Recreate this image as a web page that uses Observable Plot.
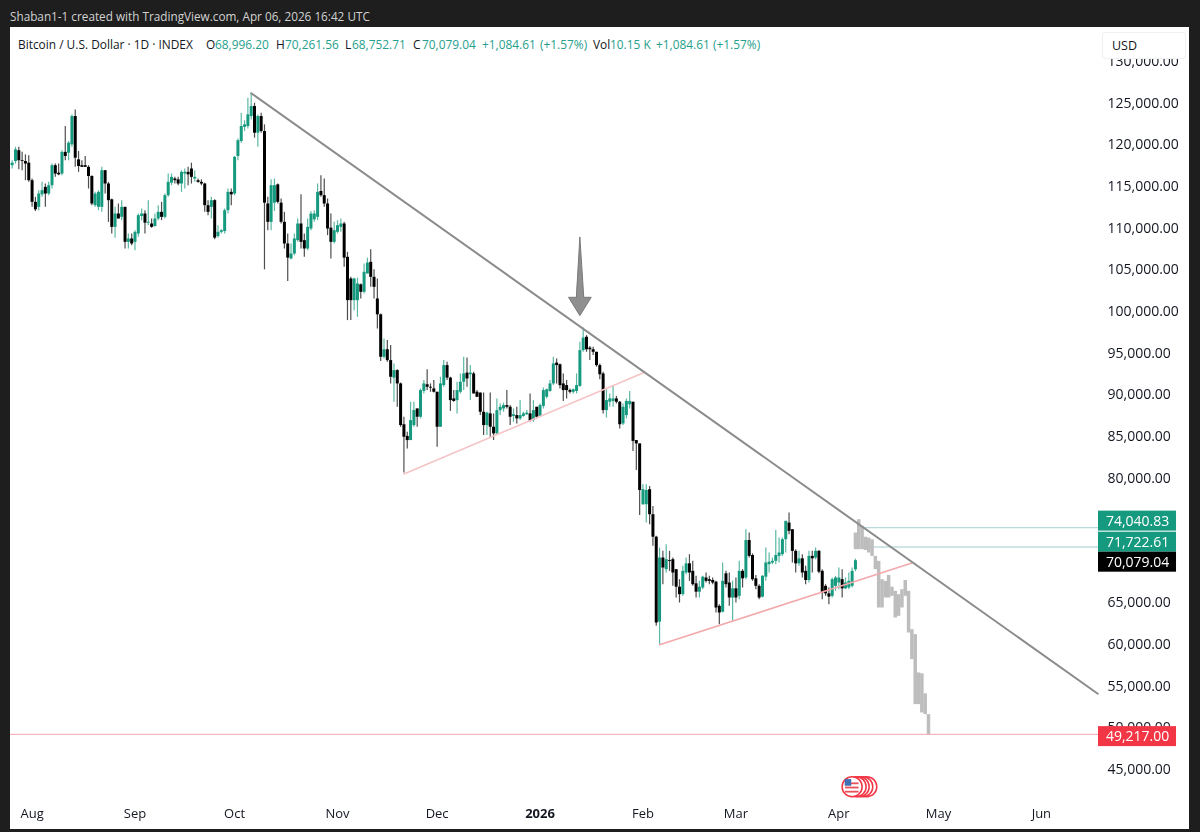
<!DOCTYPE html>
<html>
<head>
<meta charset="utf-8">
<script src="https://cdn.jsdelivr.net/npm/d3@7"></script>
<script src="https://cdn.jsdelivr.net/npm/@observablehq/plot@0.6"></script>
<style>
html,body{margin:0;padding:0;background:#1e1e1e;}
#page{position:relative;width:1200px;height:832px;overflow:hidden;background:#1e1e1e;font-family:"Open Sans",sans-serif;}
#byline{position:absolute;left:10px;top:7px;font-size:11.75px;line-height:18px;color:#d2d2d2;white-space:nowrap;}
#chart{position:absolute;left:10px;top:27px;filter:blur(.3px);}
#legend{position:absolute;left:18px;top:35px;font-size:11.9px;line-height:18px;color:#131722;white-space:nowrap;z-index:2;}
#legend .v{color:#26a08c;}
#legend span{position:absolute;top:0;}
#usd{position:absolute;left:1102px;top:32px;width:73px;height:25px;padding-left:9px;background:#fff;border:1px solid #f0f0f0;border-radius:3px;font-size:12.5px;line-height:25px;color:#131722;z-index:2;}
</style>
</head>
<body>
<div id="page">
  <div id="byline">Shaban1-1 created with TradingView.com, Apr 06, 2026 16:42 UTC</div>
  <div id="chart"></div>
  <div id="legend"></div>
  <div id="usd">USD</div>
</div>
<script>
// Daily candles from 2025-07-26, prices in thousands of USD
const firstDay = "2025-07-26";
const opens = [
117.5,118.0,119.3,118.1,118.0,117.8,115.7,113.1,112.5,114.0,
114.9,114.1,115.1,117.5,116.6,116.5,119.1,119.0,120.0,123.4,
118.2,117.5,117.5,117.3,116.2,112.7,112.5,112.5,116.9,115.3,
113.4,110.1,111.7,111.3,112.5,108.3,108.7,108.3,109.3,111.4,
111.7,110.6,110.5,110.2,111.1,111.9,111.3,113.9,115.4,115.9,
115.8,115.3,116.5,116.7,117.1,115.9,115.7,115.5,115.3,112.7,
112.5,113.3,109.0,109.5,109.6,112.1,114.3,114.1,118.6,120.4,
122.1,122.2,123.4,124.6,121.4,123.4,121.6,112.9,110.7,113.0,
115.2,113.0,110.7,108.1,106.3,106.9,108.5,110.5,108.5,107.5,
109.9,111.0,111.3,114.4,113.9,112.9,110.0,108.3,109.5,110.1,
110.5,106.5,103.9,101.3,101.3,103.2,102.3,104.5,105.9,104.1,
101.5,99.6,94.5,95.4,94.1,92.0,92.9,91.3,86.4,85.0,
84.5,86.3,88.3,87.3,90.4,91.2,90.9,90.7,90.3,86.1,
91.1,93.5,92.0,89.5,89.3,90.3,91.5,92.6,92.4,92.5,
90.3,90.2,87.9,86.3,87.7,86.1,85.3,88.1,88.3,88.7,
88.5,87.4,87.5,87.1,87.4,87.6,87.7,86.9,88.5,87.4,
88.6,89.7,90.4,91.3,93.8,93.6,91.3,91.1,90.5,90.3,
90.4,91.0,95.3,96.9,95.6,95.4,95.1,93.5,92.5,88.1,
89.1,89.2,89.5,89.1,86.5,87.5,88.8,89.1,84.5,84.1,
76.8,76.8,78.6,75.6,72.9,62.7,70.4,69.0,70.1,70.2,
69.0,66.9,66.0,68.6,69.7,68.8,67.3,66.3,66.8,68.0,
67.8,67.7,67.5,64.6,63.9,68.5,67.4,65.6,66.7,65.8,
68.8,68.0,72.5,70.7,67.9,67.0,65.7,68.1,69.6,69.8,
70.0,70.6,70.8,72.6,74.6,73.8,71.2,69.7,70.3,68.8,
67.7,70.6,70.4,71.2,68.8,67.0,66.1,65.8,67.0,67.4,
67.8,66.7,66.8,67.0,68.996];
const closes = [
117.8,119.4,118.1,118.0,117.7,115.7,113.1,112.2,114.1,114.5,
114.1,115.1,117.5,116.5,116.4,119.1,118.6,120.2,123.4,118.4,
117.4,117.3,117.3,116.2,112.9,114.1,114.3,116.9,115.3,113.3,
110.1,111.7,111.1,112.5,108.3,108.7,108.1,109.5,111.5,111.7,
110.6,110.7,110.1,111.1,111.9,111.3,113.9,115.5,116.1,115.7,
115.3,116.7,116.7,116.4,116.1,116.1,115.5,115.3,112.7,111.9,
113.3,108.8,109.5,109.7,112.1,114.3,114.0,118.5,120.5,122.2,
122.4,123.6,124.6,121.4,123.4,121.6,113.0,110.7,115.1,115.1,
113.1,110.7,108.1,106.4,106.9,108.7,110.5,108.3,107.5,110.1,
111.7,111.7,114.3,113.9,112.9,109.9,108.3,109.7,110.3,110.5,
106.4,101.3,101.3,103.9,103.3,102.3,104.7,105.8,104.1,102.9,
99.6,94.5,95.4,94.1,92.1,92.9,91.3,86.3,84.9,84.5,
86.9,88.1,87.3,90.5,91.3,90.9,90.8,90.3,86.1,91.3,
93.5,92.0,89.3,89.2,90.5,91.5,92.5,91.9,92.6,90.1,
89.7,87.9,86.3,87.8,86.1,85.3,88.1,88.5,88.7,88.5,
87.3,87.6,87.1,87.5,87.7,87.8,86.8,88.1,87.3,88.7,
90.5,90.6,91.3,93.7,93.5,91.1,90.5,90.5,90.3,90.6,
91.1,95.3,96.8,95.4,95.4,95.1,93.5,92.4,88.1,89.3,
89.5,89.5,89.1,86.4,88.5,89.2,89.2,84.4,84.1,78.5,
78.6,78.5,75.6,72.9,62.6,70.4,69.2,70.2,70.0,68.6,
66.9,66.0,68.8,69.7,68.6,67.2,66.3,66.9,68.1,67.6,
67.6,67.4,64.4,63.8,67.6,67.2,65.6,66.7,65.6,68.8,
67.9,72.5,70.6,67.8,67.0,65.6,68.2,69.8,69.9,70.0,
70.7,71.0,72.6,74.8,73.6,71.2,69.7,70.3,68.6,67.7,
70.6,70.3,71.2,68.7,66.2,66.1,65.7,67.8,68.0,68.0,
66.7,67.4,67.6,68.8,70.079];
const highs = [
118.1,119.7,119.7,119.1,118.8,118.7,115.9,113.7,114.5,115.5,
115.3,115.5,117.7,117.7,117.7,119.3,122.2,120.4,123.6,124.2,
119.2,118.1,118.6,117.5,116.3,114.3,114.5,117.3,116.9,115.5,
113.5,112.5,112.9,113.3,112.5,109.3,109.3,109.7,111.7,112.3,
112.1,113.3,111.1,111.7,112.7,113.1,114.1,116.5,116.5,116.1,
116.1,116.9,117.1,117.3,117.8,116.9,115.9,115.8,115.4,113.3,
113.7,113.4,110.3,109.8,112.3,114.7,114.7,118.6,120.7,123.8,
122.9,125.6,126.2,125.0,123.6,123.8,122.4,113.7,115.8,115.9,
115.3,113.5,111.9,109.3,108.1,109.3,111.1,114.0,109.3,111.1,
112.0,112.1,115.3,116.3,115.9,113.5,111.7,110.7,110.9,111.1,
110.7,107.1,104.1,104.0,104.0,103.3,105.7,106.4,107.4,105.0,
103.9,99.7,96.7,96.5,95.9,93.7,93.0,91.4,87.3,85.5,
89.1,89.1,88.3,90.7,91.7,93.0,91.3,91.7,90.3,92.1,
94.1,93.9,92.1,90.5,91.5,92.5,94.5,94.4,93.5,92.7,
90.5,90.2,90.2,87.9,90.2,87.7,89.5,88.9,89.0,90.5,
88.7,88.3,88.5,89.3,87.9,88.1,90.1,89.3,88.5,88.9,
90.8,90.7,91.7,94.5,94.3,93.7,92.5,91.7,90.7,90.7,
92.5,96.3,98.0,97.1,95.8,95.7,95.1,93.7,92.7,90.6,
90.1,91.0,89.8,89.2,88.9,89.5,90.4,89.1,84.5,84.1,
79.2,79.2,79.0,76.6,73.0,71.6,71.2,72.0,71.2,70.4,
69.0,67.8,69.4,70.4,70.8,70.0,68.2,67.6,68.2,68.6,
68.2,68.0,67.6,64.8,69.8,68.8,68.6,67.6,68.0,70.0,
69.0,73.8,73.4,70.9,68.3,67.2,68.3,71.6,71.0,70.4,
73.7,72.8,72.8,74.8,75.8,73.8,71.4,71.2,70.8,69.4,
71.2,71.2,71.6,71.3,69.0,67.2,66.8,68.0,68.2,69.2,
69.0,68.0,68.6,69.2,70.262];
const lows = [
117.1,117.7,117.0,116.9,115.7,115.5,112.5,112.0,112.1,113.7,
112.5,113.9,114.7,116.1,116.3,116.3,118.1,118.1,119.7,117.3,
116.7,117.3,117.3,114.7,112.7,112.5,112.1,111.9,114.1,110.7,
109.3,108.8,111.1,110.9,107.5,107.5,107.9,107.3,108.9,110.9,
109.3,110.3,110.0,110.1,110.9,110.9,111.1,113.7,115.1,115.3,
115.1,114.3,114.7,115.1,115.3,115.5,115.4,115.1,111.9,111.5,
111.1,108.6,108.8,109.3,109.3,111.7,112.7,113.9,118.1,120.2,
121.6,121.9,123.0,120.8,119.7,121.4,105.0,109.7,109.7,112.0,
112.9,110.5,107.5,103.6,106.2,106.7,108.3,107.5,106.5,107.3,
109.7,110.7,110.9,113.7,112.5,109.1,106.3,108.1,109.3,109.5,
105.3,98.9,98.9,100.1,99.3,101.5,102.1,104.5,102.9,101.5,
97.9,94.0,94.3,93.9,91.3,89.1,88.5,86.1,80.6,83.5,
84.5,86.1,86.1,87.1,90.1,90.5,90.3,90.2,83.7,86.1,
90.9,91.7,88.0,89.1,87.7,90.1,90.5,90.9,89.3,90.1,
89.7,87.5,85.1,85.1,84.9,84.5,85.1,87.5,87.9,88.3,
86.3,86.7,86.5,86.9,87.3,87.5,86.7,86.7,87.1,87.3,
88.3,89.5,90.3,91.1,91.3,90.7,89.2,89.5,90.1,90.1,
90.1,90.9,95.1,95.1,94.1,94.7,93.3,91.8,87.7,87.2,
88.5,88.5,88.9,85.9,86.3,87.1,88.3,83.2,80.9,75.5,
76.7,74.6,74.4,71.8,62.2,60.0,67.2,68.6,68.8,67.0,
65.6,65.0,65.8,68.4,67.6,67.0,65.6,65.6,66.6,67.4,
67.2,67.2,63.8,62.4,63.8,66.8,64.6,62.8,65.0,65.4,
66.8,67.8,70.4,67.6,66.6,65.4,65.6,67.6,68.6,69.6,
69.6,69.8,70.6,71.0,73.2,69.8,68.6,69.4,68.0,67.2,
67.4,68.6,70.2,68.5,65.4,65.8,64.8,65.6,66.4,66.6,
65.6,66.6,66.6,66.8,68.753];

// Projected grey bars from 2026-04-06, thousands of USD
const ghostFirstDay = "2026-04-06";
const ghostTops = [73.4,75.0,74.2,72.9,72.8,72.6,70.6,70.0,67.8,67.6,68.3,66.9,66.4,66.0,66.6,67.7,66.4,61.8,61.2,56.6,56.5,54.1,51.6];
const ghostBottoms = [71.4,71.4,71.4,71.3,71.0,70.6,69.0,64.4,64.4,65.6,65.6,65.8,63.2,63.4,64.4,65.8,61.4,58.2,52.8,52.8,51.8,51.6,49.2];

// Drawn lines
const mainTrendDates = ["2025-10-06","2026-06-18"];
const mainTrendPrices = [126200,54100];
const lowerTrendDates = ["2025-11-21","2026-02-01"];
const lowerTrendPrices = [80500,92600];
const upperTrendDates = ["2026-02-06","2026-04-23"];
const upperTrendPrices = [60000,69800];

// Price levels and their tags on the scale
const levelValues = [74040.83,71722.61,49217];
const levelStarts = ["2026-04-07","2026-04-08","2025-07-25"];
const levelColors = ["#b9d9d9","#bfdcdc","#f4b6bc"];
const tagValues = [74040.83,71722.61,70079.04,49217];
const tagCenters = [74830,72300,69900,48960];
const tagColors = ["#169a7f","#169a7f","#000000","#f23645"];

// Hand-drawn arrow outline
const arrowDates = ["2026-01-13T00:00Z","2026-01-14T04:00Z","2026-01-16T10:00Z","2026-01-13T00:00Z","2026-01-09T14:00Z","2026-01-11T20:00Z"];
const arrowPrices = [108900,101700,101700,99500,101700,101700];

// Economic-event badge under the time axis
const badgePrice = 42950;
const badgeRingDates = ["2026-04-09T10:00Z","2026-04-08T05:00Z","2026-04-07T03:00Z","2026-04-06T05:00Z"];
const badgeDate = "2026-04-05T00:00Z";
const badgeStripePrices = [43350,42850,42350];

// Axes
const priceTicks = d3.range(45000,130001,5000);
const monthDates = ["2025-08-01","2025-09-01","2025-10-01","2025-11-01","2025-12-01","2026-01-01","2026-02-01","2026-03-01","2026-04-01","2026-05-01","2026-06-01"];
const monthLabels = ["Aug","Sep","Oct","Nov","Dec","2026","Feb","Mar","Apr","May","Jun"];
const timeDomain = ["2025-07-25T12:00Z","2026-06-18T05:00Z"];
const priceDomain = [41170,134090];
const tagStart = "2026-06-18T05:00Z";
const tagEnd = "2026-07-11T17:00Z";
const tagMiddle = "2026-06-30T00:00Z";

const GREEN = "#169a7f", BLACK = "#000000", GHOST = "#bdbdbd", FONT = '"Open Sans",sans-serif';
const day0 = new Date(firstDay), ghost0 = new Date(ghostFirstDay);
const candles = opens.map((o,i)=>({date:d3.utcDay.offset(day0,i),open:o*1000,close:closes[i]*1000,high:highs[i]*1000,low:lows[i]*1000}));
const ups = candles.filter(d=>d.close>=d.open), downs = candles.filter(d=>d.close<d.open);
const ghosts = ghostTops.map((t,i)=>({date:d3.utcDay.offset(ghost0,i),top:t*1000,bottom:ghostBottoms[i]*1000}));
const toLine = (ds,ps)=>ds.map((d,i)=>({date:new Date(d),price:ps[i]}));
const levels = levelValues.map((v,i)=>({value:v,start:new Date(levelStarts[i]),end:new Date(timeDomain[1]),color:levelColors[i]}));
const tags = tagValues.map((v,i)=>({value:v,center:tagCenters[i],low:tagCenters[i]-1200,high:tagCenters[i]+1200,color:tagColors[i]}));
const arrow = toLine(arrowDates,arrowPrices);
const monthTicks = monthDates.map(d=>new Date(d));
const labelOf = d=>monthLabels[monthDates.indexOf(d.toISOString().slice(0,10))];
const badgeX = new Date(badgeDate);
const shift = h=>new Date(+badgeX+h*3600e3);

const chart = Plot.plot({
  width:1179,height:802,marginLeft:0,marginRight:91,marginTop:0,marginBottom:28,
  style:{background:"#fff",fontFamily:FONT,fontSize:"14px",color:"#131722"},
  x:{type:"utc",domain:timeDomain.map(d=>new Date(d))},
  y:{domain:priceDomain},
  color:{type:"identity"},
  marks:[
    Plot.axisY({anchor:"right",ticks:priceTicks,tickSize:0,tickPadding:9,tickFormat:d3.format(",.2f"),label:null}),
    Plot.axisX({anchor:"bottom",ticks:monthTicks.filter(d=>labelOf(d)!=="2026"),tickSize:0,tickPadding:7,tickFormat:labelOf,label:null,fontSize:13}),
    Plot.axisX({anchor:"bottom",ticks:monthTicks.filter(d=>labelOf(d)==="2026"),tickSize:0,tickPadding:7,tickFormat:labelOf,label:null,fontSize:13,fontWeight:"bold"}),
    Plot.ruleY(levels,{y:"value",x1:"start",x2:"end",stroke:"color",strokeWidth:1.3}),
    Plot.ruleX(ghosts,{x:"date",y1:"bottom",y2:"top",stroke:GHOST,strokeWidth:3.5}),
    Plot.ruleX(ups,{x:"date",y1:"low",y2:"high",stroke:GREEN,strokeWidth:1.2,strokeOpacity:.7}),
    Plot.ruleX(downs,{x:"date",y1:"low",y2:"high",stroke:"#222",strokeWidth:1.2,strokeOpacity:.8}),
    Plot.ruleX(ups,{x:"date",y1:"open",y2:"close",stroke:GREEN,strokeWidth:3}),
    Plot.ruleX(downs,{x:"date",y1:"open",y2:"close",stroke:BLACK,strokeWidth:3}),
    Plot.line(toLine(lowerTrendDates,lowerTrendPrices),{x:"date",y:"price",stroke:"#f6c4c6",strokeWidth:1.6}),
    Plot.line(toLine(upperTrendDates,upperTrendPrices),{x:"date",y:"price",stroke:"#f3a9ac",strokeWidth:1.6}),
    Plot.line(toLine(mainTrendDates,mainTrendPrices),{x:"date",y:"price",stroke:"#8b8b8b",strokeWidth:2}),
    Plot.line(arrow,{x:"date",y:"price",fill:"#8f8f8f",stroke:"#7a7a7a",strokeWidth:1,curve:"linear-closed"}),
    Plot.rect(tags,{x1:()=>new Date(tagStart),x2:()=>new Date(tagEnd),y1:"low",y2:"high",fill:"color"}),
    Plot.text(tags,{x:()=>new Date(tagMiddle),y:"center",text:d=>d3.format(",.2f")(d.value),fill:"#fff",fontSize:14}),
    Plot.dot(badgeRingDates.map(d=>({date:new Date(d)})),{x:"date",y:()=>badgePrice,r:10,fill:"#fff",stroke:"#f23645",strokeWidth:1.5}),
    Plot.dot([{date:badgeX}],{x:"date",y:()=>badgePrice,r:10,fill:"#fff",stroke:"#f23645",strokeWidth:1.5}),
    Plot.ruleY(badgeStripePrices,{y:d=>d,x1:()=>shift(-48),x2:()=>shift(50),stroke:"#e8505b",strokeWidth:1.8}),
    Plot.rect([0],{x1:()=>shift(-50),x2:()=>shift(-3),y1:()=>badgePrice+50,y2:()=>badgePrice+850,fill:"#3f6fb5"})
  ]
});
document.getElementById("chart").append(chart);

// Legend line above the plot, positioned as in the terminal's header
const legendParts = [
  ["Bitcoin / U.S. Dollar · 1D · INDEX",0,""],["O",188,""],["68,996.20",197,"v"],["H",258,""],["70,261.56",267,"v"],
  ["L",327,""],["68,752.71",334,"v"],["C",395,""],["70,079.04",404,"v"],["+1,084.61",464,"v"],["(+1.57%)",522,"v"],
  ["Vol",575,""],["10.15 K",592,"v"],["+1,084.61",638,"v"],["(+1.57%)",695,"v"]];
const legend = document.getElementById("legend");
legendParts.forEach(([t,l,c])=>{const s=document.createElement("span");s.textContent=t;s.style.left=l+"px";if(c)s.className=c;legend.append(s);});
</script>
</body>
</html>
